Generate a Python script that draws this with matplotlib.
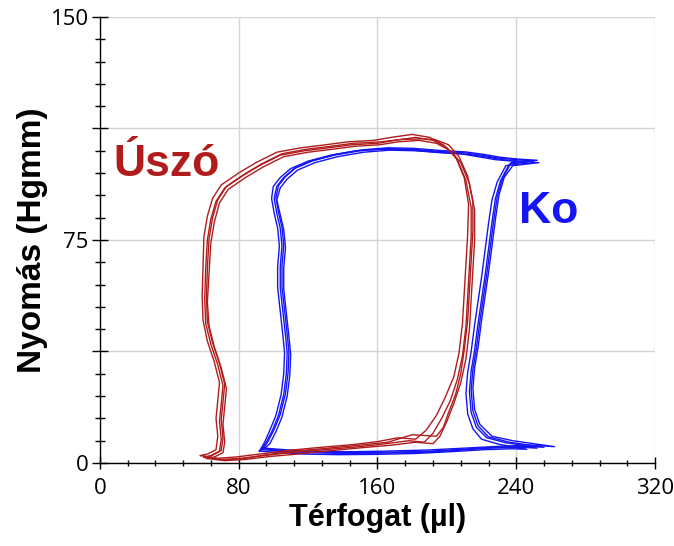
import matplotlib.pyplot as plt
from matplotlib.ticker import MultipleLocator, FuncFormatter

# pressure-volume loops, several beats per group
# (volume in ul, pressure in Hgmm)
red_beat1_x = [60, 70, 80, 95, 110, 130, 150, 165, 178, 187, 192, 197, 202, 206, 209, 211, 212, 213, 214, 214,
               211, 206, 200, 192, 182, 170, 160, 145, 132, 118, 104, 92, 82, 72, 67, 64, 62, 61, 60.5, 61,
               64, 68, 71, 70, 69, 70, 69, 64, 60]
red_beat1_y = [2.0, 1.2, 1.5, 2.5, 3.5, 4.5, 5.5, 6.5, 7.5, 7.0, 10, 15, 21, 28, 36, 46, 56, 66, 76, 86,
               95, 102, 106, 108.5, 109.5, 108.5, 107.5, 107, 106, 105, 103.5, 100, 96.5, 92.5, 88, 82, 75, 65, 55, 47,
               40, 33, 26, 20, 14, 8, 4, 2.5, 2.0]
red_beat2_x = [62, 72, 84, 98, 114, 134, 152, 168, 182, 192, 196, 200, 204, 208, 211, 213, 214, 215, 216, 216,
               213, 208, 202, 194, 184, 172, 161, 147, 134, 120, 106, 94, 84, 74, 69, 66, 64, 63, 62, 63,
               66, 70, 73, 72, 71, 72, 71, 66, 62]
red_beat2_y = [1.5, 0.8, 1.2, 2.2, 3.0, 4.2, 5.2, 6.0, 7.0, 6.5, 9, 14, 20, 27, 35, 45, 55, 65, 75, 85,
               94, 101, 105, 107.5, 108.5, 108, 107, 106.5, 105.5, 104.5, 103, 99.5, 96, 92, 87.5, 81, 74, 64, 54, 46,
               39, 32, 25, 19, 13, 7, 3.5, 2, 1.5]
red_beat3_x = [58, 68, 78, 92, 108, 126, 146, 160, 172, 182, 188, 194, 199, 204, 207, 209, 210, 211, 212, 212.5,
               210, 205, 198, 190, 180, 168, 158, 143, 130, 116, 102, 90, 80, 70, 65, 62, 60, 59.5, 59, 59.5,
               62, 66, 69, 68, 67, 68, 67, 62, 58]
red_beat3_y = [2.5, 1.6, 2.0, 3.0, 4.2, 5.2, 6.2, 7.2, 8.5, 8.0, 11, 16, 22, 29, 37, 47, 57, 67, 77, 87,
               96, 103, 107, 109.5, 110.5, 109.5, 108.5, 108, 107, 106, 104.5, 101, 97.5, 93.5, 89, 83, 76, 66, 56, 48,
               41, 34, 27, 21, 15, 9, 4.5, 3, 2.5]
red_beat4_x = [61, 72, 82, 96, 112, 132, 150, 166, 180, 194, 198, 201, 205, 208, 210, 212, 213, 214, 215, 215,
               212, 207, 201, 193, 186, 174, 162, 146, 133, 119, 105, 93, 83, 73, 68, 65, 63, 62, 61.5, 62,
               65, 69, 72, 71, 70, 71, 70, 65, 61]
red_beat4_y = [1.8, 1.0, 1.4, 2.8, 4.0, 5.0, 6.0, 7.0, 9.5, 9.0, 12, 17, 23, 30, 38, 48, 58, 68, 78, 88,
               96.5, 103, 107, 108.8, 109, 108.8, 108, 107.5, 106.5, 105.5, 104, 100.5, 97, 93, 88.5, 82.5, 75.5, 65.5, 55.5, 47.5,
               40.5, 33.5, 26.5, 20.5, 14.5, 8.5, 4.2, 2.6, 1.8]

blue_beat1_x = [93, 105, 120, 140, 160, 185, 205, 225, 242, 252, 246, 234, 223, 217, 214, 213, 214, 216, 218, 220,
                222, 224, 226, 228, 231, 236, 250, 240, 230, 220, 210, 195, 180, 165, 150, 135, 122, 112, 106, 102,
                100.5, 102, 104, 105, 104, 104, 105.5, 107, 108, 107.5, 106, 103, 99.5, 96, 93]
blue_beat1_y = [4.5, 4.0, 3.5, 3.2, 3.3, 3.6, 4.2, 5.0, 5.3, 5.0, 5.8, 6.8, 8.5, 12, 17, 24, 31, 38, 47, 55,
                63, 72, 81, 89, 95, 100.5, 101.5, 102, 102.5, 103.5, 104.3, 104.8, 105.5, 105.7, 105, 103.5, 101.5, 99, 96, 93,
                89, 84, 79, 73, 66, 59, 51, 43, 37, 30, 23, 16, 11, 7, 4.5]
blue_beat2_x = [95, 108, 124, 144, 165, 190, 210, 230, 248, 262, 250, 238, 226, 219, 216, 215, 216, 218, 220, 222,
                224, 226, 228, 230, 233, 238, 253, 242, 232, 222, 212, 197, 182, 167, 152, 137, 124, 114, 108, 104,
                102, 104, 106, 107, 106, 106, 107.5, 109, 110, 109.5, 108, 105, 101.5, 98, 95]
blue_beat2_y = [5.0, 4.4, 4.0, 3.8, 4.0, 4.4, 5.0, 5.6, 6.0, 5.5, 6.5, 7.5, 9, 13, 18, 25, 32, 39, 48, 56,
                64, 73, 82, 90, 96, 100, 101, 101.5, 102, 103, 103.8, 104.3, 105, 105.2, 104.5, 103, 101, 98.5, 95.5, 92.5,
                88.5, 83.5, 78.5, 72.5, 65.5, 58.5, 50.5, 42.5, 36.5, 29.5, 22.5, 15.5, 10.5, 6.5, 5.0]
blue_beat3_x = [92, 104, 118, 138, 158, 182, 202, 222, 238, 246, 240, 230, 220, 215, 212, 211, 212, 214, 216, 218,
                220, 222, 224, 226, 229, 234, 247, 238, 228, 218, 208, 193, 178, 163, 148, 133, 120, 110, 104, 100,
                99, 100.5, 102.5, 103.5, 102.5, 102.5, 104, 105.5, 106.5, 106, 104.5, 101.5, 98, 95, 92]
blue_beat3_y = [4.0, 3.5, 3.0, 2.8, 2.9, 3.2, 3.8, 4.5, 4.8, 4.6, 5.3, 6.3, 8, 11.5, 16.5, 23.5, 30.5, 37.5, 46.5, 54.5,
                62.5, 71.5, 80.5, 88.5, 94.5, 100, 100.8, 101.5, 102, 103, 104, 104.6, 105.3, 105.5, 105, 103.5, 101.5, 99, 96, 93,
                89, 84, 79, 73, 66, 59, 51, 43, 37, 30, 23, 16, 11, 7, 4.0]
blue_beat4_x = [94, 106, 122, 142, 162, 188, 208, 228, 245, 256, 248, 236, 224, 218, 215, 214, 215, 217, 219, 221,
                223, 225, 227, 229, 232, 237, 252, 241, 231, 221, 211, 196, 181, 166, 151, 136, 123, 113, 107, 103,
                101.5, 103, 105, 106, 105, 105, 106.5, 108, 109, 108.5, 107, 104, 100.5, 97, 94]
blue_beat4_y = [4.8, 4.2, 3.7, 3.5, 3.6, 3.9, 4.6, 5.3, 5.6, 5.3, 6.0, 7.0, 8.8, 12.5, 17.5, 24.5, 31.5, 38.5, 47.5, 55.5,
                63.5, 72.5, 81.5, 89.5, 95.5, 101, 101.8, 102.2, 102.8, 103.8, 104.6, 105.1, 105.8, 106, 105.3, 103.8, 101.8, 99.3, 96.3, 93.3,
                89.3, 84.3, 79.3, 73.3, 66.3, 59.3, 51.3, 43.3, 37.3, 30.3, 23.3, 16.3, 11.3, 7.3, 4.8]

red_beats = [(red_beat1_x, red_beat1_y), (red_beat2_x, red_beat2_y),
             (red_beat3_x, red_beat3_y), (red_beat4_x, red_beat4_y)]
blue_beats = [(blue_beat1_x, blue_beat1_y), (blue_beat2_x, blue_beat2_y),
              (blue_beat3_x, blue_beat3_y), (blue_beat4_x, blue_beat4_y)]

x_ticks = [0, 80, 160, 240, 320]
y_labels = {0: '0', 75: '75', 150: '150'}

RED = '#b01c1c'
BLUE = '#1414f5'

fig = plt.figure(figsize=(6.74, 5.46), dpi=100)
ax = fig.add_axes([0.148, 0.152, 0.824, 0.817])

for bx, by in blue_beats:
    ax.plot(bx, by, color=BLUE, lw=1.0)
for rx, ry in red_beats:
    ax.plot(rx, ry, color=RED, lw=1.0)

ax.set_xlim(0, 320)
ax.set_ylim(0, 150)
ax.set_xticks(x_ticks)
ax.xaxis.set_minor_locator(MultipleLocator(16))
ax.yaxis.set_major_locator(MultipleLocator(37.5))
ax.yaxis.set_minor_locator(MultipleLocator(7.5))
ax.yaxis.set_major_formatter(FuncFormatter(lambda v, p: y_labels.get(int(round(v)), '') if v in (0, 75, 150) else ''))

ax.grid(True, which='major', color='#d4d4d4', lw=1.0)
ax.set_axisbelow(True)
for s in ['top', 'right']:
    ax.spines[s].set_visible(False)
for s in ['left', 'bottom']:
    ax.spines[s].set_color('black')
    ax.spines[s].set_linewidth(1.0)

ax.tick_params(axis='x', which='major', direction='inout', length=9, width=1, pad=6)
ax.tick_params(axis='x', which='minor', direction='inout', length=5, width=1)
ax.tick_params(axis='y', which='major', direction='inout', length=12, width=1, pad=2)
ax.tick_params(axis='y', which='minor', direction='inout', length=6.5, width=1)
for lab in ax.get_xticklabels() + ax.get_yticklabels():
    lab.set_fontfamily('Open Sans')
    lab.set_fontsize(16)

ax.set_xlabel('Térfogat (µl)', fontsize=22, fontweight='bold', family='Liberation Sans', labelpad=3)
ax.set_ylabel('Nyomás (Hgmm)', fontsize=24, fontweight='bold', family='Liberation Sans', labelpad=2)

ax.text(38.5, 100.5, 'Úszó', color=RED, fontsize=32, fontweight='bold', family='Liberation Sans',
        ha='center', va='center')
ax.text(258.5, 84.5, 'Ko', color=BLUE, fontsize=32, fontweight='bold', family='Liberation Sans',
        ha='center', va='center')

fig.savefig('out.png', dpi=100)
